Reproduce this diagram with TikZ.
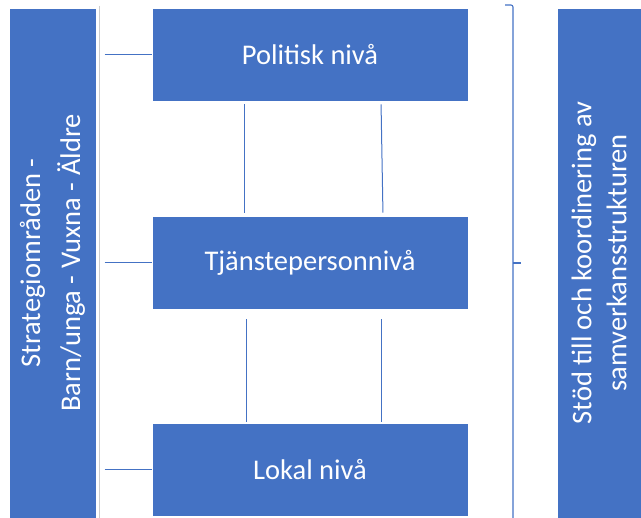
\documentclass[tikz,border=0pt]{standalone}
\usepackage{fontspec}
\setmainfont{Carlito}
\usepackage{tikz}

\definecolor{boxblue}{RGB}{68,114,196}
\definecolor{sepgray}{RGB}{205,205,205}

\begin{document}
\begin{tikzpicture}[x=1pt,y=1pt,yscale=-1,xscale=1,
    level/.style={rectangle, fill=boxblue, draw=white, line width=0.6pt,
      minimum width=316pt, minimum height=93pt, inner sep=0pt, text=white,
      font=\fontsize{28.5}{34}\selectfont},
    sidebar/.style={rectangle, fill=boxblue, draw=white, line width=0.6pt,
      minimum width=510pt, inner sep=0pt, text=white, rotate=90, align=center},
    link/.style={draw=boxblue, line width=1pt},
    curly/.style={draw=boxblue, line width=1.1pt}]

    \useasboundingbox (0,0) rectangle (641,518);

    % Side bars
    \node[sidebar, minimum height=87pt, font=\fontsize{28.5}{40}\selectfont] (strat) at (52.5,263) {Strategiområden -\\Barn/unga - Vuxna - Äldre};
    \node[sidebar, minimum height=84pt, font=\fontsize{28.5}{35}\selectfont] (stod) at (599,263) {Stöd till och koordinering  av\\samverkansstrukturen};
    \draw[sepgray, line width=1pt] (99,6) -- (99,518);

    % Levels
    \node[level] (pol) at (310,54.5) {Politisk nivå};
    \node[level] (tja) at (310,262.5) {Tjänstepersonnivå};
    \node[level] (lok) at (310,470) {Lokal nivå};

    % Lines
    \foreach \b in {pol,tja,lok} {
      \coordinate (\b-in) at ([xshift=-47pt]\b.west);
      \draw[link] (\b-in) -- (\b.west);
    }
    \draw[link, shorten <=3pt, shorten >=3pt] ([xshift=-66pt]pol.south) -- ([xshift=-66pt]tja.north);
    \draw[link, shorten <=3pt, shorten >=3pt] ([xshift=71pt]pol.south) -- ([xshift=73pt]tja.north);
    \draw[link, shorten <=10pt, shorten >=1pt] ([xshift=-64pt]tja.south) -- ([xshift=-64pt]lok.north);
    \draw[link, shorten <=10pt, shorten >=1pt] ([xshift=71pt]tja.south) -- ([xshift=71pt]lok.north);

    % Bracket
    \draw[curly, rounded corners=2pt] (505,5) -- (513,5) -- (513,518);
    \draw[curly] (513,263) -- (521,263);

\end{tikzpicture}
\end{document}
